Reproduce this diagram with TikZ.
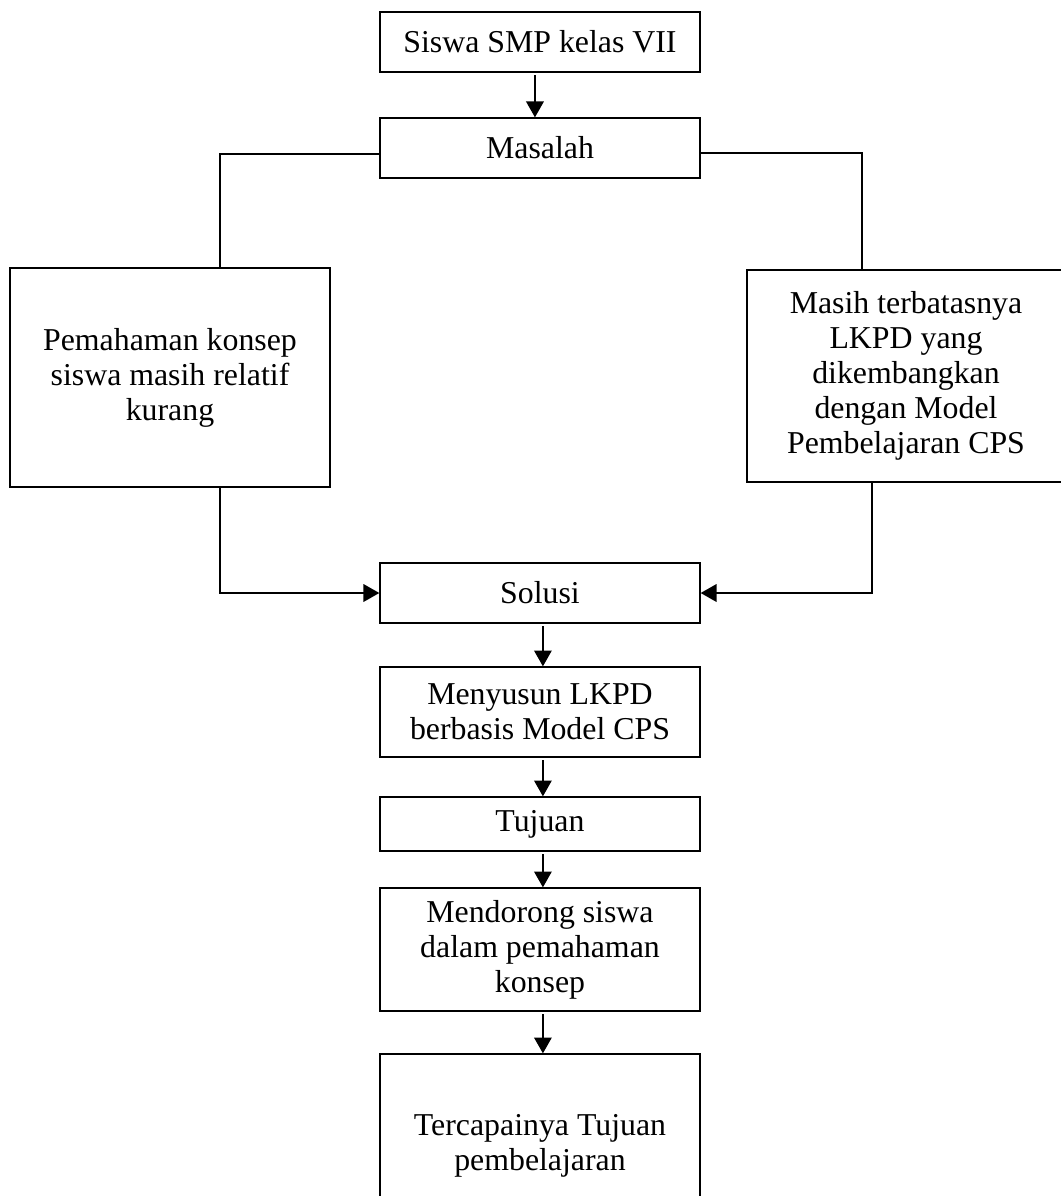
\documentclass[tikz,border=0pt]{standalone}
\usepackage{fontspec}
\setmainfont{Liberation Serif}
\usetikzlibrary{positioning, arrows.meta}

\begin{document}
\begin{tikzpicture}[x=0.377pt, y=-0.377pt,
    kotak/.style={draw, line width=0.45pt, align=center, inner sep=0pt,
        font=\fontsize{12}{13.2}\selectfont},
    panah/.style={-{Triangle[length=6pt, width=6.5pt]}, line width=1pt, shorten <=1pt},
    garis/.style={line width=0.9pt}]

    % Ukuran satu piksel gambar
    \def\px{0.377pt}
    \useasboundingbox (0,0) rectangle (1060,1196);

    % Kotak alur tengah
    \node[kotak, minimum width=320*\px, minimum height=60*\px] (siswa) at (540,42) {Siswa SMP kelas VII};
    \node[kotak, minimum width=320*\px, minimum height=60*\px] (masalah) at (540,148) {Masalah};

    % Kotak masalah kiri dan kanan
    \node[kotak, minimum width=320*\px, minimum height=219*\px] (konsep) at (170,377.5)
        {Pemahaman konsep\\siswa masih relatif\\kurang};
    \node[kotak, minimum width=318*\px, minimum height=212*\px] (lkpd) at (906,376)
        {Masih terbatasnya\\LKPD yang\\dikembangkan\\dengan Model\\Pembelajaran CPS};

    % Kotak solusi sampai tujuan akhir
    \node[kotak, minimum width=320*\px, minimum height=60*\px] (solusi) at (540,593) {Solusi};
    \node[kotak, minimum width=320*\px, minimum height=90*\px] (menyusun) at (540,712)
        {Menyusun LKPD\\berbasis Model CPS};
    \node[kotak, minimum width=320*\px, minimum height=54*\px] (tujuan) at (540,824) {Tujuan};
    \node[kotak, minimum width=320*\px, minimum height=123*\px] (mendorong) at (540,949.5)
        {Mendorong siswa\\dalam pemahaman\\konsep};
    \node[kotak, minimum width=320*\px, minimum height=184*\px] (tercapai) at (540,1146)
        {Tercapainya Tujuan\\pembelajaran};

    % Ujung bebas garis siku
    \coordinate (ujungKiriAtas) at (65,268);
    \coordinate (ujungKananAtas) at (1022,270);
    \coordinate (ujungKiriBawah) at (137,487);
    \coordinate (ujungKananBawah) at (961,482);

    % Garis dari Masalah ke kedua kotak
    \draw[garis] ([yshift=-2.3pt]masalah.west) -| (220,268) -- (ujungKiriAtas);
    \draw[garis] ([yshift=-1.9pt]masalah.east) -| (862,270) -- (ujungKananAtas);

    % Garis dari kedua kotak ke Solusi
    \draw[panah, shorten <=0pt] (ujungKiriBawah) -- (220,487) |- (solusi.west);
    \draw[panah, shorten <=0pt] (ujungKananBawah) -- (872,482) |- (solusi.east);

    % Panah vertikal
    \draw[panah] ([xshift=-1.9pt]siswa.south) -- ([xshift=-1.9pt]masalah.north);
    \draw[panah] ([xshift=1.1pt]solusi.south) -- ([xshift=1.1pt]menyusun.north);
    \draw[panah] ([xshift=1.1pt]menyusun.south) -- ([xshift=1.1pt]tujuan.north);
    \draw[panah] ([xshift=1.1pt]tujuan.south) -- ([xshift=1.1pt]mendorong.north);
    \draw[panah] ([xshift=1.1pt]mendorong.south) -- ([xshift=1.1pt]tercapai.north);
\end{tikzpicture}
\end{document}
